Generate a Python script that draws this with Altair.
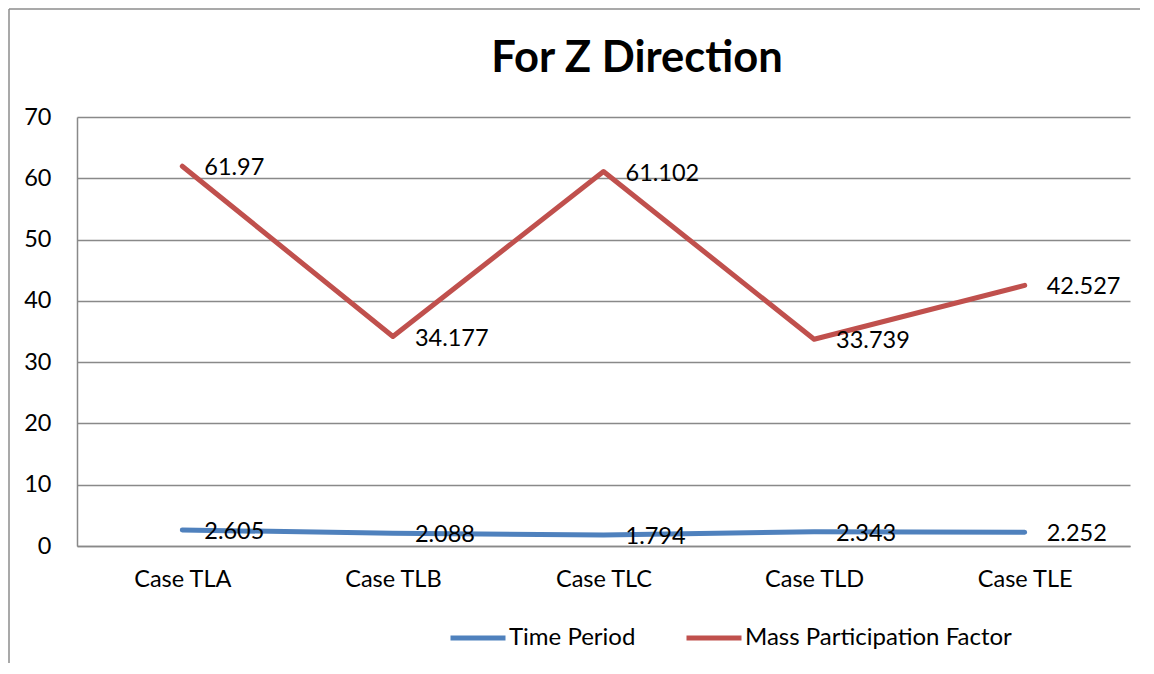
import altair as alt
import pandas as pd

categories = ["Case TLA", "Case TLB", "Case TLC", "Case TLD", "Case TLE"]
time_period = [2.605, 2.088, 1.794, 2.343, 2.252]
mass_factor = [61.97, 34.177, 61.102, 33.739, 42.527]
time_labels = ["2.605", "2.088", "1.794", "2.343", "2.252"]
mass_labels = ["61.97", "34.177", "61.102", "33.739", "42.527"]
series_names = ["Time Period", "Mass Participation Factor"]
series_colors = ["#4F81BD", "#C0504D"]
title_text = "For Z Direction"

rows = []
for i, c in enumerate(categories):
    rows.append({"cat": c, "series": series_names[0], "value": time_period[i], "label": time_labels[i], "order": i})
    rows.append({"cat": c, "series": series_names[1], "value": mass_factor[i], "label": mass_labels[i], "order": i})
df = pd.DataFrame(rows)

FONT = "Lato"
FS = 23.5
W, H = 1053, 429

x = alt.X("cat:N", sort=categories, scale=alt.Scale(type="point", padding=0.5),
          axis=alt.Axis(title=None, labelAngle=0, labelFontSize=FS, labelPadding=21,
                        ticks=False, domain=True, domainColor="#898989", domainWidth=1.5,
                        grid=False, labelColor="#000000", labelFont=FONT))
y = alt.Y("value:Q", scale=alt.Scale(domain=[0, 70], nice=False),
          axis=alt.Axis(title=None, values=[0, 10, 20, 30, 40, 50, 60, 70], labelFontSize=FS,
                        labelPadding=26, ticks=False, domain=True, domainColor="#898989",
                        domainWidth=1.5, grid=True, gridColor="#898989", gridWidth=1.5,
                        labelColor="#000000", labelFont=FONT))
color = alt.Color("series:N", sort=series_names,
                  scale=alt.Scale(domain=series_names, range=series_colors),
                  legend=alt.Legend(title=None, orient="none", legendX=371, legendY=491,
                                    direction="horizontal", symbolType="stroke",
                                    symbolSize=3025, symbolStrokeWidth=5, labelFontSize=24,
                                    labelFont=FONT, labelColor="#000000", labelOffset=1,
                                    columnPadding=40, labelLimit=400))

lines = alt.Chart(df).mark_line(strokeWidth=5, strokeCap="round", strokeJoin="round").encode(
    x=x, y=y, color=color, detail="series:N", order="order:Q")

labels = alt.Chart(df).mark_text(align="left", baseline="middle", dx=22, dy=2,
                                 fontSize=FS, font=FONT, color="#000000").encode(
    x=alt.X("cat:N", sort=categories), y="value:Q", text="label:N")

one = pd.DataFrame({"t": [title_text]})
title = alt.Chart(one).mark_text(align="center", baseline="alphabetic", fontSize=43.5,
                                 fontWeight="bold", font=FONT, color="#000000").encode(
    x=alt.value(560), y=alt.value(-45), text="t:N")

frame_left = alt.Chart(one).mark_rule(color="#8c8c8c", strokeWidth=1.5).encode(
    x=alt.value(-68), y=alt.value(-108), y2=alt.value(570))
frame_top = alt.Chart(one).mark_rule(color="#8c8c8c", strokeWidth=1.5).encode(
    x=alt.value(-68), x2=alt.value(1080), y=alt.value(-108))

chart = alt.layer(lines, labels, title, frame_left, frame_top).properties(
    width=W, height=H,
    autosize=alt.AutoSizeParams(type="none"),
    padding={"left": 69, "top": 109, "right": 10, "bottom": 117},
).configure_view(stroke=None)

chart.save("out.html", embed_options={"renderer": "svg", "actions": False})
